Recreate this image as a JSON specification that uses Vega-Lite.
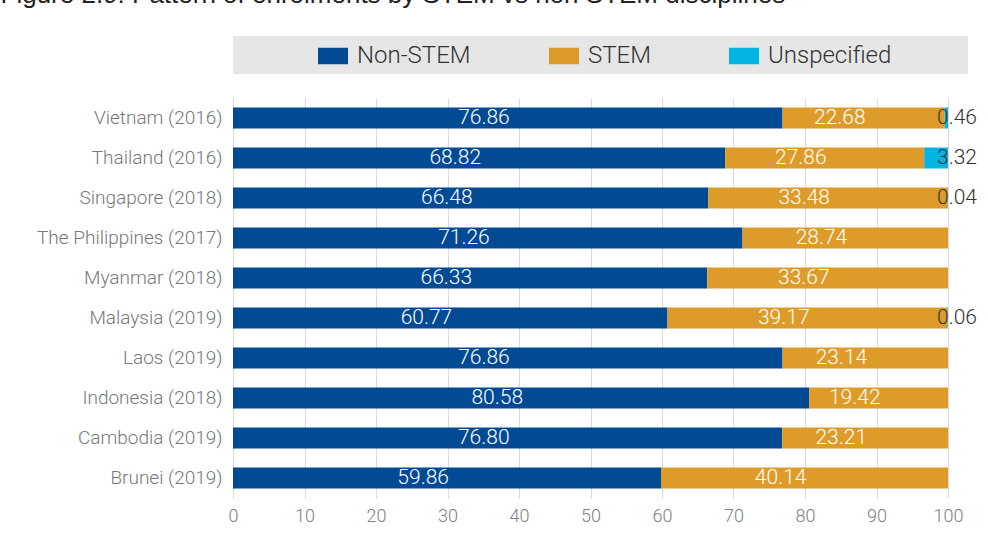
{
  "$schema": "https://vega.github.io/schema/vega-lite/v6.json",
  "padding": {"left": 0, "top": -18, "right": 0, "bottom": 0},
  "background": "white",
  "title": {
    "text": "Figure 2.9: Pattern of enrolments by STEM vs non STEM disciplines",
    "anchor": "start",
    "frame": "bounds",
    "font": "Liberation Sans",
    "fontSize": 26,
    "fontWeight": "normal",
    "color": "#222222",
    "offset": 28,
    "dx": -36
  },
  "config": {"view": {"stroke": null}, "font": "Roboto"},
  "spacing": 24,
  "bounds": "flush",
  "resolve": {"scale": {"color": "independent"}},
  "datasets": {
    "cats": [
      {"category": "Non-STEM"},
      {"category": "STEM"},
      {"category": "Unspecified"}
    ],
    "enrol": [
      {"country": "Vietnam (2016)", "category": "Non-STEM", "value": 76.86},
      {"country": "Vietnam (2016)", "category": "STEM", "value": 22.68},
      {"country": "Vietnam (2016)", "category": "Unspecified", "value": 0.46},
      {"country": "Thailand (2016)", "category": "Non-STEM", "value": 68.82},
      {"country": "Thailand (2016)", "category": "STEM", "value": 27.86},
      {"country": "Thailand (2016)", "category": "Unspecified", "value": 3.32},
      {"country": "Singapore (2018)", "category": "Non-STEM", "value": 66.48},
      {"country": "Singapore (2018)", "category": "STEM", "value": 33.48},
      {"country": "Singapore (2018)", "category": "Unspecified", "value": 0.04},
      {"country": "The Philippines (2017)", "category": "Non-STEM", "value": 71.26},
      {"country": "The Philippines (2017)", "category": "STEM", "value": 28.74},
      {"country": "Myanmar (2018)", "category": "Non-STEM", "value": 66.33},
      {"country": "Myanmar (2018)", "category": "STEM", "value": 33.67},
      {"country": "Malaysia (2019)", "category": "Non-STEM", "value": 60.77},
      {"country": "Malaysia (2019)", "category": "STEM", "value": 39.17},
      {"country": "Malaysia (2019)", "category": "Unspecified", "value": 0.06},
      {"country": "Laos (2019)", "category": "Non-STEM", "value": 76.86},
      {"country": "Laos (2019)", "category": "STEM", "value": 23.14},
      {"country": "Indonesia (2018)", "category": "Non-STEM", "value": 80.58},
      {"country": "Indonesia (2018)", "category": "STEM", "value": 19.42},
      {"country": "Cambodia (2019)", "category": "Non-STEM", "value": 76.80},
      {"country": "Cambodia (2019)", "category": "STEM", "value": 23.21},
      {"country": "Brunei (2019)", "category": "Non-STEM", "value": 59.86},
      {"country": "Brunei (2019)", "category": "STEM", "value": 40.14}
    ]
  },
  "vconcat": [
    {
      "width": 735,
      "height": 38,
      "view": {"fill": "#e6e6e6", "stroke": null},
      "data": {"name": "cats"},
      "mark": {"type": "point", "size": 0, "filled": true, "opacity": 1},
      "encoding": {
        "color": {
          "field": "category",
          "type": "nominal",
          "scale": {"domain": ["Non-STEM", "STEM", "Unspecified"], "range": ["#024a94", "#dd9c29", "#00b5e2"]},
          "legend": {
            "orient": "none",
            "legendX": 85,
            "legendY": 5,
            "direction": "horizontal",
            "columns": 3,
            "title": null,
            "symbolType": "M-1,-0.55L1,-0.55L1,0.55L-1,0.55Z",
            "symbolSize": 900,
            "symbolStrokeWidth": 0,
            "symbolOpacity": 1,
            "labelFont": "Roboto",
            "labelFontSize": 24,
            "labelFontWeight": 300,
            "labelColor": "#333333",
            "labelOffset": 9,
            "columnPadding": 78,
            "padding": 0,
            "labelLimit": 300
          }
        }
      }
    },
    {
      "width": 715,
      "height": 400,
      "data": {"name": "enrol"},
      "transform": [
        {"stack": "value", "groupby": ["country"], "sort": [{"field": "category", "order": "ascending"}], "as": ["v0", "v1"]},
        {"calculate": "(datum.v0 + datum.v1) / 2", "as": "mid"}
      ],
      "encoding": {
        "y": {
          "field": "country",
          "type": "nominal",
          "sort": null,
          "scale": {"paddingInner": 0.475, "paddingOuter": 0.2375},
          "axis": {
            "title": null,
            "domain": false,
            "ticks": false,
            "grid": false,
            "labelPadding": 11,
            "labelFont": "Roboto",
            "labelFontSize": 19,
            "labelFontWeight": 300,
            "labelColor": "#777777",
            "labelLimit": 300
          }
        }
      },
      "layer": [
        {
          "mark": {"type": "bar"},
          "encoding": {
            "x": {
              "field": "v0",
              "type": "quantitative",
              "title": null,
              "scale": {"domain": [0, 100], "nice": false},
              "axis": {
                "values": [0, 10, 20, 30, 40, 50, 60, 70, 80, 90, 100],
                "grid": true,
                "gridColor": "#d9d9d9",
                "gridWidth": 1,
                "domain": false,
                "ticks": false,
                "labelFlush": false,
                "labelPadding": 9,
                "labelFont": "Roboto",
                "labelFontSize": 18,
                "labelFontWeight": 300,
                "labelColor": "#808080"
              }
            },
            "x2": {"field": "v1"},
            "color": {
              "field": "category",
              "type": "nominal",
              "scale": {"domain": ["Non-STEM", "STEM", "Unspecified"], "range": ["#024a94", "#dd9c29", "#00b5e2"]},
              "legend": null
            }
          }
        },
        {
          "transform": [{"filter": "datum.category !== 'Unspecified'"}],
          "mark": {"type": "text", "align": "right", "baseline": "middle", "dx": 2, "font": "Roboto", "fontSize": 21, "fontWeight": 300, "color": "#ffffff"},
          "encoding": {
            "x": {"field": "mid", "type": "quantitative", "title": null},
            "text": {"field": "value", "type": "quantitative", "format": ".2f"}
          }
        },
        {
          "transform": [{"filter": "datum.category === 'Unspecified'"}],
          "mark": {"type": "text", "align": "left", "baseline": "middle", "dx": -11, "font": "Roboto", "fontSize": 21, "fontWeight": 300, "color": "#333333"},
          "encoding": {
            "x": {"field": "v1", "type": "quantitative", "title": null},
            "text": {"field": "value", "type": "quantitative", "format": ".2f"}
          }
        }
      ]
    }
  ]
}
